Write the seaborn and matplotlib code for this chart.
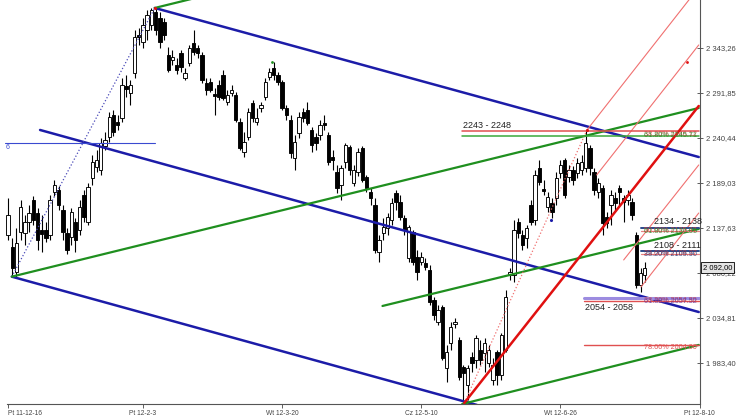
import numpy as np
import pandas as pd
import matplotlib
matplotlib.use("Agg")
import matplotlib.pyplot as plt
import matplotlib.transforms as mtransforms
import seaborn as sns

# ---------------- data ----------------
opens = [2130, 2116, 2087, 2133, 2132, 2144, 2170, 2155, 2135, 2135,
         2130, 2179, 2181, 2158, 2132, 2127, 2144, 2135, 2175, 2144,
         2195, 2207, 2204, 2231, 2242, 2267, 2259, 2263, 2300, 2292,
         2315, 2358, 2350, 2364, 2370, 2384, 2378, 2373, 2335, 2330,
         2324, 2338, 2309, 2326, 2349, 2343, 2335, 2303, 2304, 2291,
         2301, 2312, 2282, 2292, 2290, 2259, 2224, 2242, 2280, 2259,
         2275, 2287, 2310, 2320, 2312, 2304, 2275, 2261, 2218, 2246,
         2270, 2272, 2250, 2242, 2244, 2258, 2244, 2219, 2202, 2187,
         2213, 2230, 2189, 2202, 2229, 2196, 2179, 2164, 2110, 2132,
         2138, 2147, 2178, 2167, 2149, 2103, 2133, 2104, 2099, 2098,
         2090, 2055, 2030, 2047, 1978, 2006, 2028, 2010, 1979, 1958,
         1990, 1987, 1998, 1995, 1983, 1964, 1996, 1970, 1998, 2084,
         2084, 2145, 2130, 2126, 2164, 2147, 2206, 2182, 2162, 2166,
         2172, 2200, 2215, 2196, 2204, 2200, 2204, 2206, 2229, 2202,
         2179, 2183, 2150, 2164, 2172, 2183, 2172, 2170, 2167, 2130,
         2072, 2084]
highs = [2172, 2126, 2138, 2170, 2152, 2164, 2174, 2160, 2152, 2144,
         2175, 2192, 2186, 2164, 2138, 2160, 2149, 2170, 2181, 2189,
         2221, 2227, 2240, 2247, 2270, 2272, 2267, 2309, 2312, 2307,
         2364, 2366, 2378, 2387, 2389, 2389, 2384, 2378, 2344, 2341,
         2332, 2341, 2320, 2347, 2364, 2347, 2339, 2309, 2309, 2298,
         2307, 2318, 2295, 2301, 2293, 2263, 2247, 2275, 2284, 2275,
         2282, 2309, 2320, 2327, 2316, 2307, 2278, 2267, 2244, 2270,
         2275, 2282, 2253, 2246, 2261, 2267, 2247, 2227, 2210, 2210,
         2235, 2232, 2210, 2229, 2231, 2198, 2183, 2172, 2130, 2149,
         2155, 2172, 2181, 2175, 2152, 2141, 2135, 2112, 2110, 2103,
         2095, 2059, 2050, 2050, 2004, 2030, 2035, 2013, 1981, 1981,
         1996, 2015, 2010, 2012, 2004, 1989, 1998, 2018, 2067, 2092,
         2147, 2149, 2135, 2141, 2170, 2204, 2215, 2192, 2179, 2172,
         2202, 2215, 2218, 2210, 2208, 2218, 2221, 2250, 2232, 2206,
         2195, 2187, 2156, 2181, 2179, 2187, 2175, 2181, 2172, 2133,
         2092, 2099]
lows = [2124, 2082, 2080, 2124, 2118, 2133, 2141, 2112, 2110, 2122,
        2124, 2174, 2158, 2124, 2108, 2118, 2110, 2130, 2144, 2141,
        2187, 2202, 2198, 2227, 2236, 2243, 2250, 2259, 2287, 2278,
        2309, 2347, 2343, 2352, 2364, 2358, 2343, 2352, 2316, 2324,
        2314, 2316, 2307, 2323, 2335, 2332, 2303, 2290, 2293, 2267,
        2284, 2284, 2278, 2288, 2259, 2227, 2219, 2238, 2259, 2255,
        2270, 2284, 2307, 2307, 2301, 2272, 2261, 2218, 2204, 2240,
        2259, 2255, 2224, 2227, 2238, 2250, 2210, 2204, 2178, 2170,
        2206, 2198, 2186, 2197, 2190, 2179, 2164, 2109, 2099, 2124,
        2130, 2141, 2158, 2147, 2130, 2099, 2095, 2078, 2095, 2090,
        2050, 2032, 2027, 1987, 1962, 1998, 2023, 1964, 1938, 1941,
        1973, 1978, 1981, 1973, 1979, 1958, 1958, 1964, 1996, 2078,
        2076, 2126, 2112, 2115, 2141, 2141, 2187, 2175, 2156, 2149,
        2164, 2195, 2172, 2190, 2187, 2195, 2198, 2202, 2198, 2175,
        2172, 2130, 2138, 2141, 2158, 2164, 2145, 2164, 2147, 2069,
        2065, 2076]
closes = [2152, 2092, 2120, 2162, 2144, 2155, 2147, 2124, 2131, 2126,
          2170, 2187, 2164, 2133, 2112, 2156, 2124, 2162, 2150, 2185,
          2213, 2215, 2235, 2238, 2264, 2247, 2255, 2301, 2296, 2301,
          2356, 2356, 2370, 2381, 2387, 2364, 2350, 2358, 2318, 2333,
          2318, 2322, 2315, 2343, 2339, 2338, 2307, 2295, 2295, 2288,
          2287, 2286, 2290, 2295, 2261, 2229, 2236, 2270, 2263, 2263,
          2278, 2304, 2316, 2312, 2304, 2275, 2267, 2223, 2236, 2264,
          2263, 2258, 2232, 2235, 2255, 2255, 2213, 2215, 2183, 2206,
          2232, 2204, 2204, 2224, 2192, 2183, 2172, 2112, 2124, 2139,
          2150, 2166, 2167, 2150, 2135, 2139, 2099, 2087, 2104, 2093,
          2053, 2038, 2044, 1989, 1996, 2025, 2030, 1967, 1972, 1978,
          1983, 2012, 1987, 2006, 1998, 1981, 1970, 2015, 2059, 2087,
          2135, 2132, 2118, 2138, 2145, 2198, 2190, 2180, 2173, 2156,
          2195, 2210, 2175, 2204, 2192, 2212, 2213, 2235, 2206, 2181,
          2189, 2143, 2143, 2175, 2166, 2179, 2167, 2175, 2152, 2072,
          2086, 2092]

x_tick_days = [0, 32, 65, 98, 131, 164]
x_tick_labels = ["Pt 11-12-16", "Pt 12-2-3", "Wt 12-3-20",
                 "Cz 12-5-10", "Wt 12-6-26", "Pt 12-8-10"]
y_tick_values = [1983.40, 2034.81, 2086.22, 2137.63, 2189.03,
                 2240.44, 2291.85, 2343.26]
y_tick_labels = ["1 983,40", "2 034,81", "2 086,22", "2 137,63",
                 "2 189,03", "2 240,44", "2 291,85", "2 343,26"]
last_price = 2092.00
last_price_label = "2 092,00"

# trend lines: (day index pair, price pair)
blue_upper_x, blue_upper_y = [34.8, 163.8], [2389.0, 2218.7]
blue_mid_x, blue_mid_y = [7.6, 163.8], [2249.6, 2041.6]
blue_low_x, blue_low_y = [0.9, 111.2], [2082.0, 1935.4]
blue_dotted_x, blue_dotted_y = [0.9, 34.8], [2082.0, 2389.0]
blue_flat_x, blue_flat_y = [-0.7, 34.8], [2234.7, 2234.7]
green_1_x, green_1_y = [0.9, 163.8], [2082.0, 2274.7]
green_2_x, green_2_y = [88.8, 163.8], [2048.5, 2136.5]
green_3_x, green_3_y = [107.7, 163.8], [1936.5, 2004.0]
green_4_x, green_4_y = [34.8, 50.0], [2389.0, 2407.0]
red_main_x, red_main_y = [108.2, 163.8], [1937.7, 2277.0]
red_dotted_x, red_dotted_y = [108.2, 137.3], [1937.7, 2249.6]
red_thin_1_x, red_thin_1_y = [137.3, 163.8], [2249.6, 2412.5]
red_thin_2_x, red_thin_2_y = [139.6, 163.8], [2198.2, 2346.7]
red_thin_3_x, red_thin_3_y = [146.0, 163.8], [2101.1, 2209.6]
red_thin_4_x, red_thin_4_y = [150.1, 163.8], [2070.2, 2154.7]

# support / resistance zones
zone_labels = ["2243 - 2248", "2134 - 2138", "2108 - 2111", "2054 - 2058"]
zone_low = [2243, 2134, 2108, 2054]
zone_high = [2248, 2138, 2111, 2058]
zone_start = [107.7, 150.1, 150.1, 136.6]
fib_texts_a = ["61.80% 2245.71", "61.80% 2136.05", "38.20% 2109.90", "61.80% 2057.52"]
fib_texts_b = ["38.20% 2246.12", "50.00% 2135.47", "23.60% 2108.37", "38.20% 2054.30"]
fib_786_price = 2004.0
fib_786_text = "78.60% 2004.00"

# ---------------- drawing ----------------
sns.set_theme(style="white")
plt.rcParams['font.family'] = ['Liberation Sans', 'DejaVu Sans']

fig = plt.figure(figsize=(7.4, 4.16), dpi=100)
fig.patch.set_facecolor('white')
ax = fig.add_axes([0, 12 / 416, 700 / 740, 404 / 416])
ax.set_facecolor('white')

df = pd.DataFrame({'open': opens, 'high': highs, 'low': lows, 'close': closes})
df['day'] = np.arange(len(df))
up = df['close'] >= df['open']
body_lo = np.minimum(df['open'], df['close'])
body_h = np.maximum(np.abs(df['close'] - df['open']), 1.0)

ax.vlines(df['day'], df['low'], df['high'], color='black', lw=0.8, zorder=3)
ax.bar(df['day'][up], body_h[up], bottom=body_lo[up], width=0.8,
       color='white', edgecolor='black', linewidth=0.65, zorder=4)
ax.bar(df['day'][~up], body_h[~up], bottom=body_lo[~up], width=0.8,
       color='black', edgecolor='black', linewidth=0.65, zorder=4)


def seg(xs, ys, color, lw, ls='-', z=5):
    sns.lineplot(x=xs, y=ys, ax=ax, color=color, linewidth=lw, linestyle=ls,
                 estimator=None, sort=False, legend=False, zorder=z)


blue = '#1c1ca8'
green = '#1f8f1f'
red = '#e01010'
pink = '#f07070'

seg(blue_upper_x, blue_upper_y, blue, 1.8)
seg(blue_mid_x, blue_mid_y, blue, 1.8)
seg(blue_low_x, blue_low_y, blue, 1.8)
seg(blue_dotted_x, blue_dotted_y, '#4a4ab8', 0.9, ':')
seg(blue_flat_x, blue_flat_y, '#3a4ad0', 0.8)
seg(green_1_x, green_1_y, green, 1.6)
seg(green_2_x, green_2_y, green, 1.6)
seg(green_3_x, green_3_y, green, 1.6)
seg(green_4_x, green_4_y, green, 1.6)
seg(red_main_x, red_main_y, red, 1.8, z=6)
seg(red_dotted_x, red_dotted_y, pink, 0.9, ':')
for lx, ly in [(red_thin_1_x, red_thin_1_y), (red_thin_2_x, red_thin_2_y),
               (red_thin_3_x, red_thin_3_y), (red_thin_4_x, red_thin_4_y)]:
    seg(lx, ly, pink, 0.8)

# zones
x_end = 163.8
zone_top_colors = [('#e05050', 1.1), ('#2a4a8a', 1.4), ('#2a4a8a', 1.4), ('#9c8ce0', 2.2)]
zone_bot_colors = [('#3aa83a', 1.1), ('#e88080', 0.9), ('#e88080', 0.9), ('#e05050', 1.0)]
for i in range(len(zone_labels)):
    c, w = zone_top_colors[i]
    seg([zone_start[i], x_end], [zone_high[i], zone_high[i]], c, w)
    c, w = zone_bot_colors[i]
    seg([zone_start[i], x_end], [zone_low[i], zone_low[i]], c, w)

ax.text(zone_start[0] + 0.2, zone_high[0] + 1.5, zone_labels[0], fontsize=6.5,
        color='#222222', va='bottom', ha='left', zorder=8)
ax.text(153.2, zone_high[1] + 1.5, zone_labels[1], fontsize=6.5,
        color='#222222', va='bottom', ha='left', zorder=8)
ax.text(153.2, zone_high[2] + 1.5, zone_labels[2], fontsize=6.5,
        color='#222222', va='bottom', ha='left', zorder=8)
ax.text(zone_start[3] + 0.2, zone_low[3] - 2.5, zone_labels[3], fontsize=6.5,
        color='#222222', va='top', ha='left', zorder=8)

fib_colors_a = ['#2c8a2c', '#2c8a2c', '#2a3a7a', '#6a3aa0']
fib_colors_b = ['#d04040', '#d04040', '#d04040', '#d04040']
for i in range(len(zone_labels)):
    mid = (zone_low[i] + zone_high[i]) / 2
    ax.text(163.4, mid - 1.0, fib_texts_b[i], fontsize=5.2, color=fib_colors_b[i],
            ha='right', va='center', zorder=8, alpha=0.85)
    ax.text(163.4, mid - 2.2, fib_texts_a[i], fontsize=5.2, color=fib_colors_a[i],
            ha='right', va='center', zorder=9, alpha=0.85)

seg([zone_start[3], x_end], [fib_786_price, fib_786_price], '#e05050', 1.0)
ax.text(163.4, fib_786_price - 3.5, fib_786_text, fontsize=5.2, color='#e05050',
        ha='right', va='center', zorder=8)

# small pivot markers
ax.scatter([34.8], [2389.0], s=5, color=red, zorder=9, linewidths=0)
ax.scatter([137.3], [2249.6], s=5, color=red, zorder=9, linewidths=0)
ax.scatter([62.7], [2327.3], s=4, color=green, zorder=9, linewidths=0)
ax.scatter([128.8], [2146.7], s=5, color=blue, zorder=9, linewidths=0)
ax.scatter([160.9], [2327.3], s=4, color=red, zorder=9, linewidths=0)
ax.text(0.0, 2230.0, "6", fontsize=5, color='#3a4ad0', ha='center', va='center', zorder=8)

# axes
ax.set_xlim(-1.9, 164.1)
ax.set_ylim(1936.5, 2398.1)
ax.yaxis.tick_right()
ax.set_yticks(y_tick_values)
ax.set_yticklabels(y_tick_labels)
ax.set_xticks(x_tick_days)
ax.set_xticklabels(x_tick_labels)
ax.get_xticklabels()[0].set_horizontalalignment('left')
ax.tick_params(axis='y', right=True, left=False, labelsize=5.5, labelcolor='#444444',
               length=4, width=0.6, color='#444444', direction='inout', pad=2)
ax.tick_params(axis='x', bottom=True, labelsize=4.8, labelcolor='#444444',
               length=3, width=0.6, color='#444444', direction='out', pad=1.5)
for side in ['top', 'left']:
    ax.spines[side].set_visible(False)
for side in ['right', 'bottom']:
    ax.spines[side].set_visible(True)
    ax.spines[side].set_color('#555555')
    ax.spines[side].set_linewidth(0.8)
ax.spines['bottom'].set_bounds(-0.2, 164.1)
ax.grid(False)

trans = mtransforms.blended_transform_factory(ax.transAxes, ax.transData)
ax.text(1.004, last_price, last_price_label, transform=trans, fontsize=5.5,
        color='black', ha='left', va='center', zorder=20, clip_on=False,
        bbox=dict(boxstyle='square,pad=0.25', fc='#e4e4e4', ec='black', lw=0.6))

fig.savefig('out.png', dpi=100)
